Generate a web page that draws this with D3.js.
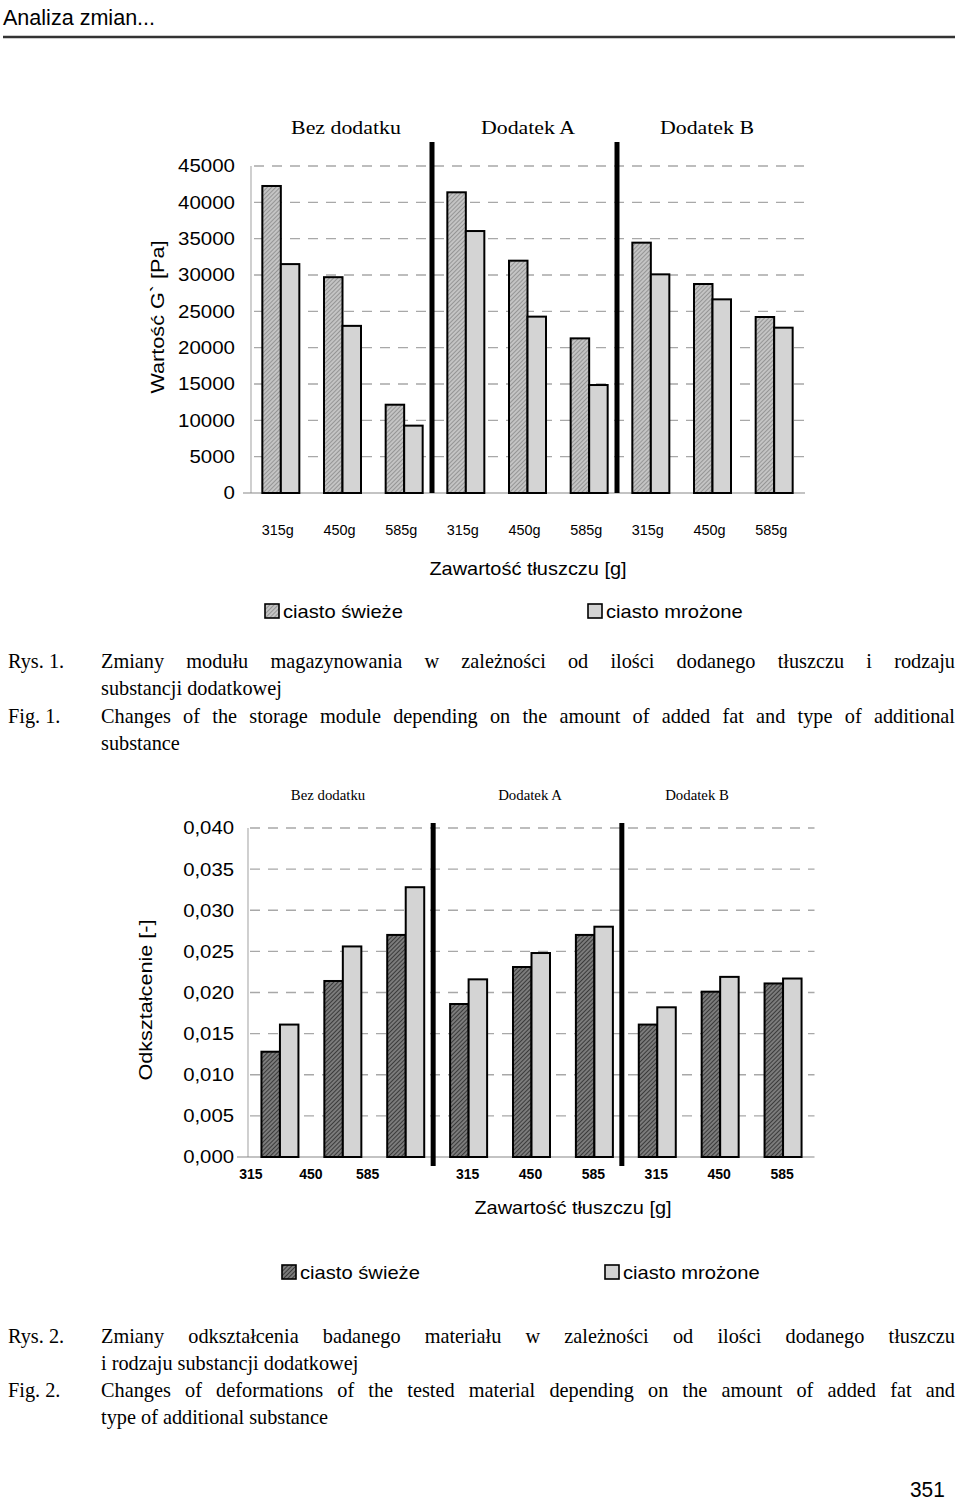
<!DOCTYPE html>
<html><head><meta charset="utf-8">
<script src="https://cdn.jsdelivr.net/npm/d3@7"></script>
<style>html,body{margin:0;padding:0;background:#fff;}svg{display:block;}</style>
</head><body>
<script>
// ---------- data ----------
const groups = ["Bez dodatku", "Dodatek A", "Dodatek B"];
const categoriesTop = ["315g","450g","585g","315g","450g","585g","315g","450g","585g"];
const categoriesBottom = ["315","450","585","315","450","585","315","450","585"];
const seriesNames = ["ciasto świeże", "ciasto mrożone"];
const gFresh  = [42250, 29700, 12150, 41380, 31970, 21280, 34450, 28760, 24220];
const gFrozen = [31500, 23000,  9270, 36050, 24270, 14860, 30090, 26650, 22750];
const dFresh  = [0.0128, 0.0214, 0.0270, 0.0186, 0.0231, 0.0270, 0.0161, 0.0201, 0.0211];
const dFrozen = [0.0161, 0.0256, 0.0328, 0.0216, 0.0248, 0.0280, 0.0182, 0.0219, 0.0217];
const ticksTop = [0,5000,10000,15000,20000,25000,30000,35000,40000,45000];
const ticksBottom = [0,0.005,0.010,0.015,0.020,0.025,0.030,0.035,0.040];
const caption1 = ["Zmiany modułu magazynowania w zależności od ilości dodanego tłuszczu i rodzaju", "substancji dodatkowej"];
const caption1en = ["Changes of the storage module depending on the amount of added fat and type of additional", "substance"];
const caption2 = ["Zmiany odkształcenia badanego materiału w zależności od ilości dodanego tłuszczu", "i rodzaju substancji dodatkowej"];
const caption2en = ["Changes of deformations of the tested material depending on the amount of added fat and", "type of additional substance"];

// ---------- setup ----------
const W = 960, H = 1504;
const svg = d3.select("body").append("svg").attr("width", W).attr("height", H);
svg.append("rect").attr("width", W).attr("height", H).attr("fill", "#fff");
const SANS = "'Liberation Sans', Arial, sans-serif";
const SERIF = "'Liberation Serif', 'Times New Roman', serif";

const defs = svg.append("defs");
function hatch(id, bg, fg, sw) {
  const p = defs.append("pattern").attr("id", id).attr("patternUnits", "userSpaceOnUse")
    .attr("width", 3).attr("height", 3).attr("patternTransform", "rotate(45)");
  p.append("rect").attr("width", 3).attr("height", 3).attr("fill", bg);
  p.append("line").attr("x1", 0).attr("x2", 0).attr("y1", 0).attr("y2", 3)
    .attr("stroke", fg).attr("stroke-width", sw);
}
hatch("hatchLight", "#c4c4c4", "#6e6e6e", 1.1);
hatch("hatchDark", "#7c7c7c", "#1e1e1e", 1.4);
const FROZEN = "#d4d4d4";

function stext(g, str, x, y, size, opts = {}) {
  const sx = opts.sx || 1, rot = opts.rot || 0;
  return g.append("text")
    .attr("transform", `translate(${x},${y}) rotate(${rot}) scale(${sx},1)`)
    .attr("font-family", opts.family || SANS)
    .attr("font-size", size)
    .attr("font-weight", opts.weight || "normal")
    .attr("text-anchor", opts.anchor || "start")
    .attr("fill", "#000")
    .text(str);
}

// ---------- header ----------
stext(svg, "Analiza zmian...", 3, 25, 22, {sx: 0.98});
svg.append("line").attr("x1", 3).attr("x2", 955).attr("y1", 37).attr("y2", 37)
  .attr("stroke", "#333").attr("stroke-width", 2.5);

// ---------- chart builder ----------
function chart(cfg) {
  const g = svg.append("g");
  const x = d3.scaleBand().domain(d3.range(cfg.fresh.length)).range(cfg.xRange);
  const y = d3.scaleLinear().domain(cfg.yDomain).range(cfg.yRange);
  const bw = cfg.barW;
  const cx = i => x(i) + x.bandwidth() / 2;

  // gridlines
  g.selectAll("line.grid").data(cfg.ticks.filter(t => t > 0)).join("line")
    .attr("x1", cfg.gridStart).attr("x2", cfg.xRange[1])
    .attr("y1", d => y(d)).attr("y2", d => y(d))
    .attr("stroke", "#a8a8a8").attr("stroke-width", 1.3).attr("stroke-dasharray", "10,8");
  // axes
  g.append("line").attr("x1", cfg.axisX).attr("x2", cfg.axisX)
    .attr("y1", y(cfg.yDomain[1])).attr("y2", y(0)).attr("stroke", "#b0b0b0").attr("stroke-width", 1.2);
  g.append("line").attr("x1", cfg.baseStart).attr("x2", cfg.xRange[1])
    .attr("y1", y(0)).attr("y2", y(0)).attr("stroke", "#888").attr("stroke-width", 1.2);

  // y tick labels
  cfg.ticks.forEach(t => {
    stext(g, cfg.tickFmt(t), cfg.tickRight, y(t) + cfg.tickSize * 0.36, cfg.tickSize, {anchor: "end", sx: cfg.tickSx});
  });

  // bars
  g.selectAll("rect.fresh").data(cfg.fresh).join("rect")
    .attr("x", (d, i) => cx(i) - bw).attr("width", bw)
    .attr("y", d => y(d)).attr("height", d => y(0) - y(d))
    .attr("fill", `url(#${cfg.hatch})`).attr("stroke", "#000").attr("stroke-width", 2);
  g.selectAll("rect.frozen").data(cfg.frozen).join("rect")
    .attr("x", (d, i) => cx(i)).attr("width", bw)
    .attr("y", d => y(d)).attr("height", d => y(0) - y(d))
    .attr("fill", FROZEN).attr("stroke", "#000").attr("stroke-width", 2);

  // separators between groups
  [3, 6].forEach(k => {
    const sx = x(k) + cfg.sepShift;
    g.append("line").attr("x1", sx).attr("x2", sx)
      .attr("y1", cfg.sepTop).attr("y2", cfg.sepBottom)
      .attr("stroke", "#000").attr("stroke-width", 5);
  });

  // group titles
  groups.forEach((name, k) => {
    stext(g, name, cfg.groupX[k], cfg.groupY, cfg.groupSize, {anchor: "middle", family: SERIF, sx: cfg.groupSx});
  });

  // x tick labels
  cfg.cats.forEach((c, i) => {
    stext(g, c, cx(i) + cfg.catShift(i), cfg.catY, cfg.catSize, {anchor: "middle", weight: cfg.catWeight, sx: cfg.catSx});
  });

  // axis titles
  stext(g, "Zawartość tłuszczu [g]", cfg.xTitle[0], cfg.xTitle[1], 17.5, {anchor: "middle", sx: 1.14});
  stext(g, cfg.yTitle, cfg.yTitlePos[0], cfg.yTitlePos[1], 19, {anchor: "middle", rot: -90, sx: 1.14});

  // legend
  cfg.legend.forEach((lx, k) => {
    g.append("rect").attr("x", lx).attr("y", cfg.legendY - 7).attr("width", 14).attr("height", 14)
      .attr("fill", k === 0 ? `url(#${cfg.hatch})` : FROZEN).attr("stroke", "#000").attr("stroke-width", 1.6);
    stext(g, seriesNames[k], lx + 18, cfg.legendY + 6.5, 18, {sx: 1.12});
  });
}

chart({
  fresh: gFresh, frozen: gFrozen, cats: categoriesTop,
  xRange: [250, 805], yDomain: [0, 45000], yRange: [493, 166],
  ticks: ticksTop, tickFmt: d => String(d), tickRight: 235, tickSize: 17.5, tickSx: 1.17,
  barW: 18.5, gridStart: 254, axisX: 251, baseStart: 243,
  hatch: "hatchLight", sepShift: -3, sepTop: 142, sepBottom: 493,
  groupX: [346, 528, 707], groupY: 134, groupSize: 19, groupSx: 1.15,
  catShift: i => -3, catY: 535, catSize: 14, catWeight: "normal", catSx: 1.03,
  xTitle: [528, 575], yTitle: "Wartość G` [Pa]", yTitlePos: [164, 317],
  legend: [265, 588], legendY: 611
});

const firstGroupShift = [-29, -32, -38];
chart({
  fresh: dFresh, frozen: dFrozen, cats: categoriesBottom,
  xRange: [248.5, 814.5], yDomain: [0, 0.04], yRange: [1157, 828],
  ticks: ticksBottom, tickFmt: d => d3.format(".3f")(d).replace(".", ","), tickRight: 234, tickSize: 18, tickSx: 1.13,
  barW: 18.5, gridStart: 250, axisX: 248, baseStart: 237,
  hatch: "hatchDark", sepShift: -4, sepTop: 823, sepBottom: 1166,
  groupX: [328, 530, 697], groupY: 800, groupSize: 14.8, groupSx: 1,
  catShift: i => (i < 3 ? firstGroupShift[i] : -1), catY: 1179, catSize: 14, catWeight: "bold", catSx: 1,
  xTitle: [573, 1214], yTitle: "Odkształcenie [-]", yTitlePos: [152, 1000],
  legend: [282, 605], legendY: 1272
});

// ---------- captions ----------
function justified(str, x0, x1, y, size) {
  const words = str.split(" ");
  const g = svg.append("g");
  const nodes = words.map(w => g.append("text").attr("font-family", SERIF).attr("font-size", size)
    .attr("y", y).attr("fill", "#000").text(w));
  const widths = nodes.map(n => n.node().getComputedTextLength());
  const gap = (x1 - x0 - d3.sum(widths)) / (words.length - 1);
  let cx = x0;
  nodes.forEach((n, i) => { n.attr("x", cx); cx += widths[i] + gap; });
}
function plain(str, x, y, size) {
  svg.append("text").attr("font-family", SERIF).attr("font-size", size).attr("x", x).attr("y", y)
    .attr("fill", "#000").text(str);
}
const CS = 20.3;
plain("Rys. 1.", 8, 668, CS); justified(caption1[0], 101, 955, 668, CS); plain(caption1[1], 101, 695, CS);
plain("Fig. 1.", 8, 723, CS); justified(caption1en[0], 101, 955, 723, CS); plain(caption1en[1], 101, 750, CS);
plain("Rys. 2.", 8, 1343, CS); justified(caption2[0], 101, 955, 1343, CS); plain(caption2[1], 101, 1370, CS);
plain("Fig. 2.", 8, 1397, CS); justified(caption2en[0], 101, 955, 1397, CS); plain(caption2en[1], 101, 1424, CS);

stext(svg, "351", 910, 1497, 22, {anchor: "start", sx: 0.95});
</script>
</body></html>
